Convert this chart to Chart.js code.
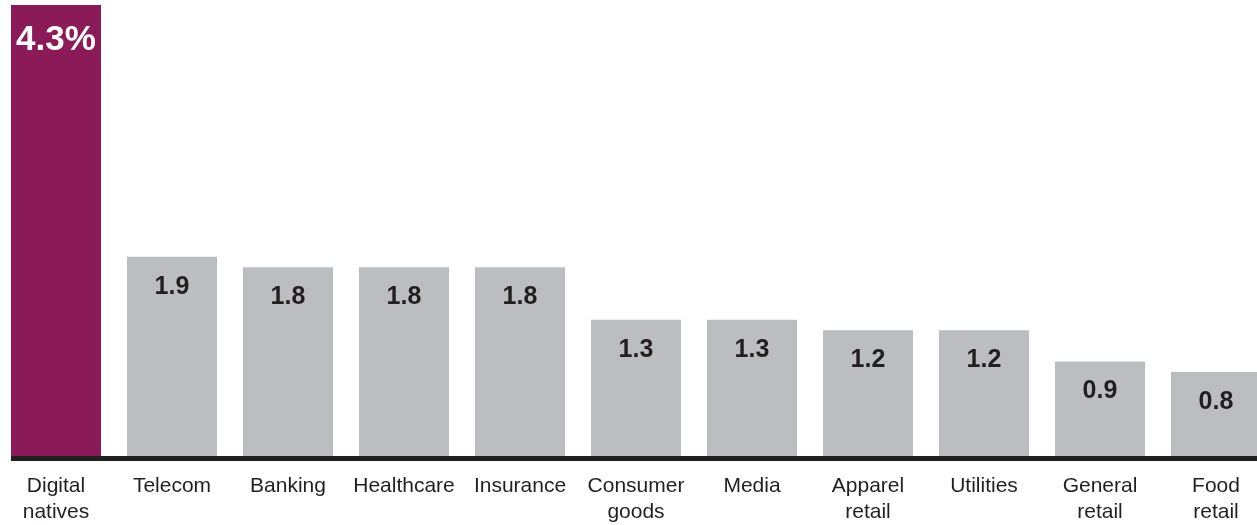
<!DOCTYPE html>
<html>
<head>
<meta charset="utf-8">
<script src="https://cdn.jsdelivr.net/npm/chart.js@4/dist/chart.umd.min.js"></script>
<style>
  html, body { margin: 0; padding: 0; background: #fff; overflow: hidden; }
  #wrap { position: relative; width: 1257px; height: 525px; overflow: hidden; }
  #SectorChart { position: absolute; left: -2px; top: 0; }
</style>
</head>
<body>
<div id="wrap"><canvas id="SectorChart" width="1276" height="525"></canvas></div>
<script>
// data
const categories = [['Digital', 'natives'], 'Telecom', 'Banking', 'Healthcare', 'Insurance',
    ['Consumer', 'goods'], 'Media', ['Apparel', 'retail'], 'Utilities', ['General', 'retail'], ['Food', 'retail']];
const values = [4.3, 1.9, 1.8, 1.8, 1.8, 1.3, 1.3, 1.2, 1.2, 0.9, 0.8];
const valueLabels = ['4.3%', '1.9', '1.8', '1.8', '1.8', '1.3', '1.3', '1.2', '1.2', '0.9', '0.8'];

const purple = 'rgb(139, 26, 88)';
const grey = 'rgb(188, 189, 192)';
const ink = 'rgb(35, 31, 32)';
const fontFamily = '"Liberation Sans", Arial, Helvetica, sans-serif';

// value labels inside bars + baseline under bars
const barDecor = {
    id: 'barDecor',
    afterDatasetsDraw(chart) {
        const c = chart.ctx;
        const bars = chart.getDatasetMeta(0).data;
        c.save();
        c.textAlign = 'center';
        c.textBaseline = 'middle';
        bars.forEach((bar, i) => {
            if (i === 0) {
                c.fillStyle = '#fff';
                c.font = 'bold 35px ' + fontFamily;
                c.fillText(valueLabels[i], bar.x, bar.y + 35);
            } else {
                c.fillStyle = ink;
                c.font = 'bold 25px ' + fontFamily;
                c.fillText(valueLabels[i], bar.x, bar.y + 30);
            }
        });
        // baseline
        const first = bars[0], last = bars[bars.length - 1];
        c.strokeStyle = ink;
        c.lineWidth = 5;
        c.beginPath();
        c.moveTo(first.x - first.width / 2, chart.chartArea.bottom + 2.5);
        c.lineTo(last.x + last.width / 2, chart.chartArea.bottom + 2.5);
        c.stroke();
        c.restore();
    }
};

const ctx = document.getElementById('SectorChart').getContext('2d');

const SectorChart = new Chart(ctx, {
    type: 'bar',
    data: {
        labels: categories,
        datasets: [{
            data: values,
            backgroundColor: values.map((v, i) => i === 0 ? purple : grey),
            borderWidth: 0,
            categoryPercentage: 1,
            barPercentage: 0.776
        }]
    },
    options: {
        responsive: false,
        animation: false,
        layout: { padding: { top: 5, left: 0, right: 0, bottom: 0 } },
        plugins: {
            legend: { display: false },
            tooltip: { enabled: false }
        },
        scales: {
            y: {
                display: false,
                min: 0,
                max: 4.3
            },
            x: {
                grid: { display: false, drawTicks: false },
                border: { display: false },
                afterFit: (scale) => { scale.height = 69; },
                ticks: {
                    color: ink,
                    padding: 17,
                    maxRotation: 0,
                    autoSkip: false,
                    font: { family: fontFamily, size: 21, lineHeight: 1.24 }
                }
            }
        }
    },
    plugins: [barDecor]
});
</script>
</body>
</html>
